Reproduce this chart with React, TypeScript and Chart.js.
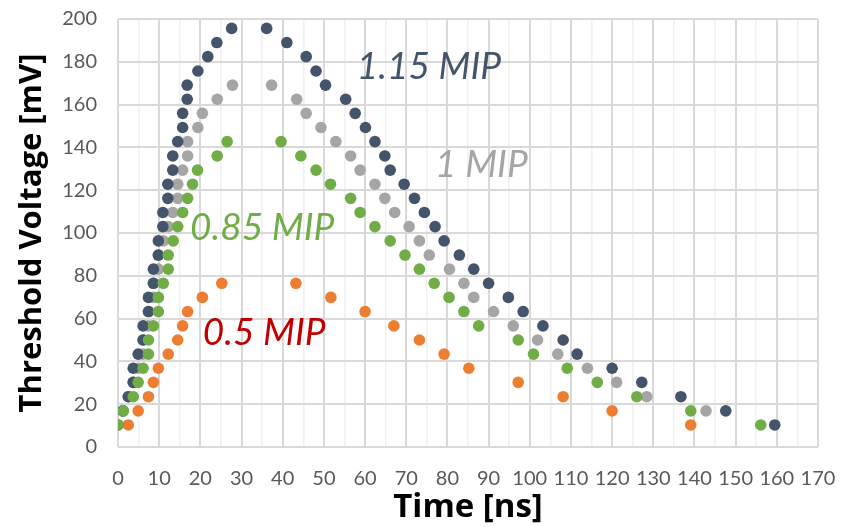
import React, { useEffect, useRef } from "react";
import { Chart, registerables } from "chart.js";

Chart.register(...registerables);

// ---- data (time in ns, threshold in mV) ----
const mip115Time = [0, 1.2, 2.5, 3.7, 3.7, 4.9, 6.1, 6.1, 7.4, 7.4, 8.6, 8.6, 9.8, 9.8, 10.9, 10.9, 12.1, 12.1, 13.3, 13.3, 14.5, 15.7, 15.7, 16.8, 16.8, 19.4, 21.8, 24.0, 27.6,
  36.1, 41.0, 45.7, 48.1, 50.4, 55.3, 57.6, 60.1, 62.4, 64.8, 66.1, 69.5, 72.0, 74.4, 77.0, 79.2, 82.9, 86.4, 90.0, 94.8, 98.4, 103.2, 108.1, 111.5, 120.0, 127.2, 136.7, 147.6, 159.5];
const mip115Volt = [10.3, 16.9, 23.5, 30.2, 36.8, 43.4, 50.0, 56.6, 63.3, 69.9, 76.5, 83.1, 89.7, 96.3, 103.0, 109.6, 116.2, 122.8, 129.4, 136.0, 142.7, 149.3, 155.9, 162.5, 169.1, 175.7, 182.4, 189.0, 195.6,
  195.6, 189.0, 182.4, 175.7, 169.1, 162.5, 155.9, 149.3, 142.7, 136.0, 129.4, 122.8, 116.2, 109.6, 103.0, 96.3, 89.7, 83.1, 76.5, 69.9, 63.3, 56.6, 50.0, 43.4, 36.8, 30.2, 23.5, 16.9, 10.3];

const mip1Time = [1.2, 2.5, 3.7, 4.9, 6.1, 6.1, 7.4, 7.4, 8.6, 8.6, 9.8, 9.8, 11.0, 12.2, 13.3, 14.5, 14.5, 15.7, 16.9, 16.9, 19.4, 20.5, 24.1, 27.8,
  37.3, 43.4, 45.7, 49.3, 52.9, 56.5, 58.8, 62.4, 64.8, 67.2, 70.7, 73.2, 75.6, 80.5, 84.0, 86.4, 91.2, 96.0, 101.9, 106.8, 114.0, 121.1, 128.4, 142.8];
const mip1Volt = [16.9, 23.5, 30.2, 36.8, 43.4, 50.0, 56.6, 63.3, 69.9, 76.5, 83.1, 89.7, 96.3, 103.0, 109.6, 116.2, 122.8, 129.4, 136.0, 142.7, 149.3, 155.9, 162.5, 169.1,
  169.1, 162.5, 155.9, 149.3, 142.7, 136.0, 129.4, 122.8, 116.2, 109.6, 103.0, 96.3, 89.7, 83.1, 76.5, 69.9, 63.3, 56.6, 50.0, 43.4, 36.8, 30.2, 23.5, 16.9];

const mip085Time = [0, 1.3, 3.7, 4.9, 6.1, 7.4, 7.4, 8.6, 9.8, 9.8, 11.0, 12.2, 12.2, 13.4, 14.5, 15.7, 16.9, 18.1, 19.3, 24.1, 26.5,
  39.6, 44.4, 48.1, 51.6, 56.5, 58.8, 62.4, 66.1, 69.7, 73.2, 76.8, 80.4, 84.0, 87.6, 97.2, 100.9, 109.1, 116.4, 126.0, 139.1, 156.1];
const mip085Volt = [10.3, 16.9, 23.5, 30.2, 36.8, 43.4, 50.0, 56.6, 63.3, 69.9, 76.5, 83.1, 89.7, 96.3, 103.0, 109.6, 116.2, 122.8, 129.4, 136.0, 142.7,
  142.7, 136.0, 129.4, 122.8, 116.2, 109.6, 103.0, 96.3, 89.7, 83.1, 76.5, 69.9, 63.3, 56.6, 50.0, 43.4, 36.8, 30.2, 23.5, 16.9, 10.3];

const mip05Time = [2.5, 4.9, 7.4, 8.6, 9.8, 12.2, 14.5, 15.7, 16.9, 20.5, 25.2,
  43.2, 51.7, 60.0, 67.0, 73.2, 79.2, 85.2, 97.2, 108.1, 120.0, 139.1];
const mip05Volt = [10.3, 16.9, 23.5, 30.2, 36.8, 43.4, 50.0, 56.6, 63.3, 69.9, 76.5,
  76.5, 69.9, 63.3, 56.6, 50.0, 43.4, 36.8, 30.2, 23.5, 16.9, 10.3];

const labelTexts = ["1.15 MIP", "1 MIP", "0.85 MIP", "0.5 MIP"];
const labelTime = [58.0, 77.0, 17.5, 20.6];
const labelVolt = [177.6, 131.8, 102.4, 53.4];
const labelColors = ["#44546A", "#A5A5A5", "#70AD47", "#C00000"];

const FONT = "Lato, 'Open Sans', 'DejaVu Sans', sans-serif";
const TITLE_FONT = "'Open Sans', Lato, sans-serif";

function pts(xs: number[], ys: number[]) {
  return xs.map((x, i) => ({ x, y: ys[i] }));
}

const labelPlugin = {
  id: "mipLabels",
  afterDatasetsDraw(chart: any) {
    const { ctx, scales } = chart;
    ctx.save();
    ctx.font = `italic 37px ${FONT}`;
    ctx.textAlign = "left";
    ctx.textBaseline = "middle";
    labelTexts.forEach((t, i) => {
      ctx.fillStyle = labelColors[i];
      ctx.fillText(t, scales.x.getPixelForValue(labelTime[i]), scales.y.getPixelForValue(labelVolt[i]));
    });
    ctx.restore();
  },
};

export default function App() {
  const ref = useRef<HTMLCanvasElement | null>(null);
  useEffect(() => {
    document.body.style.margin = "0";
    if (!ref.current) return;
    const ds = (label: string, xs: number[], ys: number[], color: string) => ({
      label,
      data: pts(xs, ys),
      backgroundColor: color,
      borderColor: color,
      borderWidth: 0,
      pointRadius: 5.8,
      pointHoverRadius: 5.8,
      showLine: false,
    });
    const chart = new Chart(ref.current, {
      type: "scatter",
      data: {
        datasets: [
          ds("0.85 MIP", mip085Time, mip085Volt, "#70AD47"),
          ds("1.15 MIP", mip115Time, mip115Volt, "#44546A"),
          ds("1 MIP", mip1Time, mip1Volt, "#A5A5A5"),
          ds("0.5 MIP", mip05Time, mip05Volt, "#ED7D31"),
        ],
      },
      options: {
        animation: false,
        responsive: false,
        layout: { padding: { top: 19, right: 35, left: 0, bottom: 0 } },
        plugins: { legend: { display: false }, tooltip: { enabled: false }, title: { display: false } },
        scales: {
          x: {
            type: "linear",
            min: 0,
            max: 170,
            afterFit: (s: any) => { s.height = 80; s.paddingLeft = 0; s.paddingRight = 0; },
            ticks: {
              stepSize: 5,
              autoSkip: false,
              maxRotation: 0,
              padding: 20,
              color: "#595959",
              font: { family: FONT, size: 20 },
              callback: (v: any) => (Number(v) % 10 === 0 ? String(v) : ""),
            },
            grid: {
              drawTicks: false,
              color: (c: any) => (c.tick && c.tick.value % 10 === 0 ? "#D9D9D9" : "#F0F0F0"),
              lineWidth: (c: any) => (c.tick && c.tick.value % 10 === 0 ? 2 : 1.5),
            },
            border: { display: false },
            title: {
              display: true,
              text: "Time [ns]",
              color: "#000000",
              font: { family: TITLE_FONT, size: 33, weight: "bold" },
              padding: { top: 0, bottom: 0 },
            },
          },
          y: {
            type: "linear",
            min: 0,
            max: 200,
            afterFit: (s: any) => { s.width = 118; s.paddingTop = 0; s.paddingBottom = 0; },
            ticks: {
              stepSize: 20,
              padding: 21,
              color: "#595959",
              font: { family: FONT, size: 20 },
            },
            grid: { drawTicks: false, color: "#D9D9D9", lineWidth: 2 },
            border: { display: false },
            title: {
              display: true,
              text: "Threshold Voltage [mV]",
              color: "#000000",
              font: { family: TITLE_FONT, size: 31, weight: "bold" },
              padding: { top: 14, bottom: 0 },
            },
          },
        },
      },
      plugins: [labelPlugin],
    } as any);
    return () => chart.destroy();
  }, []);
  return (
    <div style={{ width: 853, height: 527, background: "#fff" }}>
      <canvas ref={ref} width={853} height={527} style={{ display: "block" }} />
    </div>
  );
}
